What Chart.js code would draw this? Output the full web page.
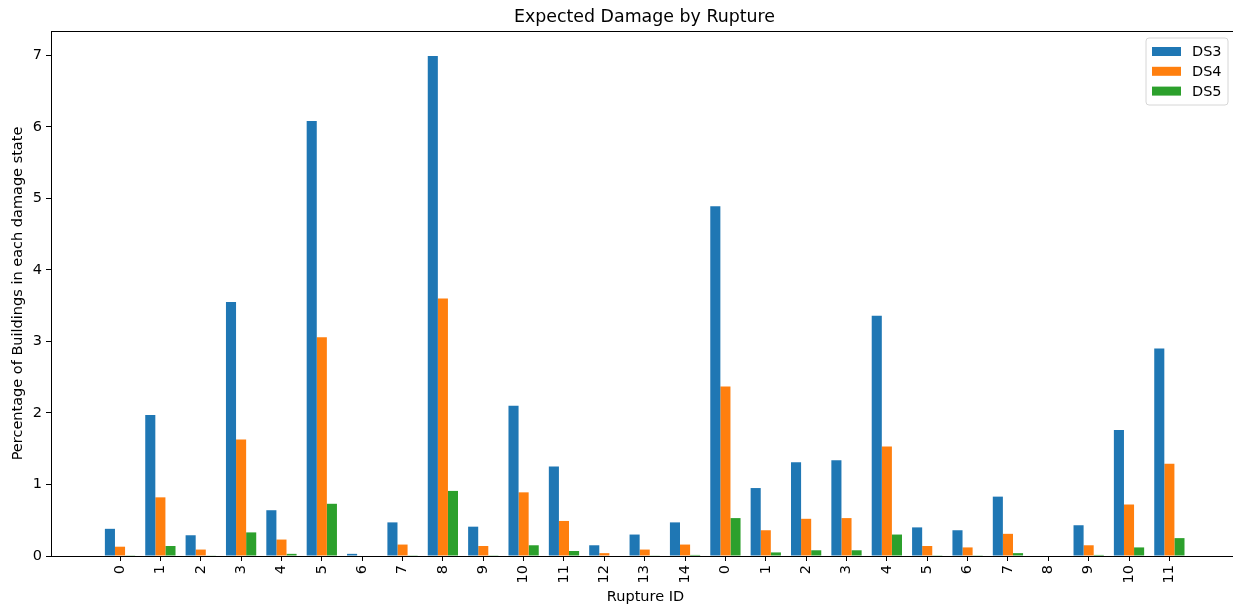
<!DOCTYPE html>
<html>
<head>
<meta charset="utf-8">
<title>Expected Damage by Rupture</title>
<script src="https://cdn.jsdelivr.net/npm/chart.js@4.4.1/dist/chart.umd.min.js"></script>
<style>
  html, body { margin: 0; padding: 0; background: #fff; overflow: hidden; }
  #wrap { width: 1240px; height: 608px; position: relative; }
</style>
</head>
<body>
<div id="wrap"><canvas id="chart"></canvas></div>
<script>
// Rupture IDs shown on the x axis (two rupture sets, indexed from 0 each)
const ruptureIds = ['0','1','2','3','4','5','6','7','8','9','10','11','12','13','14',
                    '0','1','2','3','4','5','6','7','8','9','10','11'];

// Percentage of buildings in each damage state, per rupture
const ds3 = [0.38, 1.97, 0.29, 3.55, 0.64, 6.08, 0.03, 0.47, 6.99, 0.41, 2.10, 1.25, 0.15, 0.30, 0.47,
             4.89, 0.95, 1.31, 1.34, 3.36, 0.40, 0.36, 0.83, 0.00, 0.43, 1.76, 2.90];
const ds4 = [0.13, 0.82, 0.09, 1.63, 0.23, 3.06, 0.00, 0.16, 3.60, 0.14, 0.89, 0.49, 0.04, 0.09, 0.16,
             2.37, 0.36, 0.52, 0.53, 1.53, 0.14, 0.12, 0.31, 0.00, 0.15, 0.72, 1.29];
const ds5 = [0.010, 0.14, 0.005, 0.33, 0.03, 0.73, 0.00, 0.010, 0.91, 0.010, 0.15, 0.07, 0.00, 0.005, 0.015,
             0.53, 0.05, 0.08, 0.08, 0.30, 0.010, 0.010, 0.04, 0.00, 0.015, 0.12, 0.25];

const seriesNames = ['DS3', 'DS4', 'DS5'];
const seriesColors = ['#1f77b4', '#ff7f0e', '#2ca02c'];
const yTicks = [0, 1, 2, 3, 4, 5, 6, 7];

const FONT = 'DejaVu Sans';
const TEXT_SIZE = 14.5;
Chart.defaults.font.family = FONT;
Chart.defaults.font.size = TEXT_SIZE;
Chart.defaults.color = '#000';

const toPoints = arr => arr.map((v, i) => ({ x: i, y: v }));

// Axes frame, centred title and a boxed legend in the upper right corner
const decorations = {
  id: 'decorations',
  afterDraw(chart) {
    const { ctx, chartArea: a } = chart;
    ctx.save();
    ctx.strokeStyle = '#000';
    ctx.lineWidth = 1;
    ctx.strokeRect(Math.round(a.left) + 0.5, Math.round(a.top) + 0.5,
                   Math.round(a.right - a.left) - 1, Math.round(a.bottom - a.top));

    ctx.fillStyle = '#000';
    ctx.font = '17.4px "' + FONT + '"';
    ctx.textAlign = 'center';
    ctx.textBaseline = 'alphabetic';
    ctx.fillText('Expected Damage by Rupture', (a.left + a.right) / 2 - 1, 22);

    // legend
    const bx = 1146, by = 38, bw = 82, bh = 67, r = 3;
    ctx.beginPath();
    ctx.moveTo(bx + r, by);
    ctx.arcTo(bx + bw, by, bx + bw, by + bh, r);
    ctx.arcTo(bx + bw, by + bh, bx, by + bh, r);
    ctx.arcTo(bx, by + bh, bx, by, r);
    ctx.arcTo(bx, by, bx + bw, by, r);
    ctx.closePath();
    ctx.fillStyle = 'rgba(255,255,255,0.8)';
    ctx.fill();
    ctx.strokeStyle = '#d6d6d6';
    ctx.lineWidth = 1;
    ctx.stroke();

    ctx.font = TEXT_SIZE + 'px "' + FONT + '"';
    ctx.textAlign = 'left';
    ctx.textBaseline = 'middle';
    chart.data.datasets.forEach((d, i) => {
      const cy = 51.5 + i * 19.8;
      ctx.fillStyle = d.backgroundColor;
      ctx.fillRect(1152, cy - 4.5, 29, 9);
      ctx.fillStyle = '#000';
      ctx.fillText(d.label, 1192, cy + 1);
    });
    ctx.restore();
  }
};

new Chart(document.getElementById('chart'), {
  type: 'bar',
  data: {
    datasets: [ds3, ds4, ds5].map((vals, i) => ({
      label: seriesNames[i],
      data: toPoints(vals),
      backgroundColor: seriesColors[i],
      borderWidth: 0,
      categoryPercentage: 0.75,
      barPercentage: 1.0
    }))
  },
  options: {
    responsive: true,
    maintainAspectRatio: false,
    animation: false,
    layout: { padding: { top: 31, left: 0, right: 0, bottom: 0 } },
    plugins: {
      legend: { display: false },
      title: { display: false },
      tooltip: { enabled: false }
    },
    scales: {
      x: {
        type: 'linear',
        offset: false,
        min: -1.71,
        max: 27.75,
        afterBuildTicks: s => { s.ticks = ruptureIds.map((_, i) => ({ value: i })); },
        afterFit: s => { s.height = 52; },
        ticks: {
          autoSkip: false,
          maxRotation: 90,
          minRotation: 90,
          padding: 4,
          callback: v => ruptureIds[v]
        },
        grid: { offset: false, drawOnChartArea: false, drawTicks: true, tickLength: 5, tickColor: '#000', tickWidth: 1 },
        border: { display: true, color: '#000', width: 1 },
        title: { display: true, text: 'Rupture ID', padding: { top: 0, bottom: 2 } }
      },
      y: {
        type: 'linear',
        min: 0,
        max: 7.34,
        afterBuildTicks: s => { s.ticks = yTicks.map(v => ({ value: v })); },
        afterFit: s => { s.width = 51; },
        ticks: { padding: 4, callback: v => String(v) },
        grid: { drawOnChartArea: false, drawTicks: true, tickLength: 5, tickColor: '#000', tickWidth: 1 },
        border: { display: true, color: '#000', width: 1 },
        title: { display: true, text: 'Percentage of Buildings in each damage state', padding: { top: 10, bottom: 0 } }
      }
    }
  },
  plugins: [decorations]
});
</script>
</body>
</html>
